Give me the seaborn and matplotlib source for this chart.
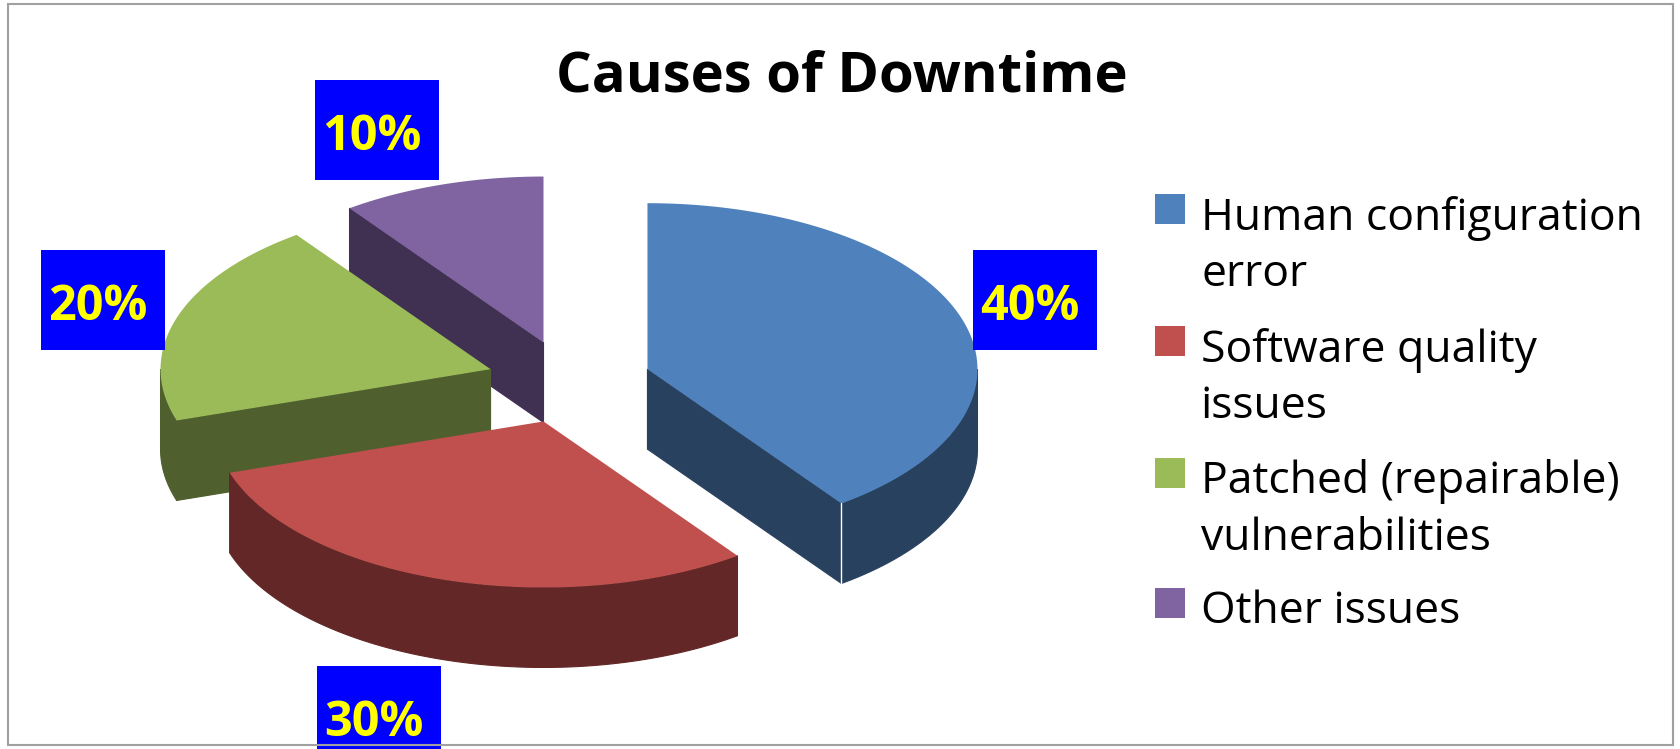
import numpy as np
import matplotlib
matplotlib.use("Agg")
import matplotlib.pyplot as plt
from matplotlib.patches import Rectangle
import seaborn as sns

# Chart content
title = "Causes of Downtime"
categories = [
    "Human configuration\nerror",
    "Software quality\nissues",
    "Patched (repairable)\nvulnerabilities",
    "Other issues",
]
shares = [40, 30, 20, 10]

top_colors = sns.color_palette(["#4F81BD", "#C0504D", "#9BBB59", "#8064A2"])
side_colors = sns.color_palette(["#28415F", "#622726", "#4F5F2D", "#403152"])

sns.set_theme(style="white")
plt.rcParams["font.family"] = ["Open Sans", "DejaVu Sans"]

# Projected pie geometry (canvas pixels, y pointing down)
CENTER = (569.0, 382.0)
RX, RY = 330.0, 166.0
DEPTH = 80.0
EXPLODE = 0.25


def rim(angle_deg):
    """Rim offset from a slice apex; angles run clockwise from twelve o'clock."""
    a = np.radians(angle_deg)
    return RX * np.sin(a), -RY * np.cos(a)


def arc_points(start, stop, apex):
    angles = np.linspace(start, stop, 90)
    dx, dy = rim(angles)
    return apex[0] + dx, apex[1] + dy


fig = plt.figure(figsize=(16.8, 7.49), dpi=100, facecolor="white")
ax = fig.add_axes([0, 0, 1, 1])
ax.set_xlim(0, 1680)
ax.set_ylim(749, 0)
ax.axis("off")

# Slice angle ranges follow from the shares
edges = np.concatenate([[0.0], np.cumsum(shares)]) * 3.6
slices = []
for i in range(len(shares)):
    start, stop = edges[i], edges[i + 1]
    mx, my = rim((start + stop) / 2)
    apex = (CENTER[0] + EXPLODE * mx, CENTER[1] + EXPLODE * my)
    slices.append((i, start, stop, apex))

# Painted back to front: other, patched, human, software
for i in [3, 2, 0, 1]:
    _, start, stop, apex = slices[i]
    top, side = top_colors[i], side_colors[i]
    wall_z = 2 + 0.1 * (3 - i)

    # Radial wall on whichever straight edge faces the viewer
    for edge in (start, stop):
        dx, dy = rim(edge)
        if (i == 0 and edge == stop) or (i == 2 and edge == start) or (i == 3 and edge == start):
            ax.fill(
                [apex[0], apex[0] + dx, apex[0] + dx, apex[0]],
                [apex[1], apex[1] + dy, apex[1] + dy + DEPTH, apex[1] + DEPTH],
                facecolor=side, edgecolor=side, lw=0.8, zorder=wall_z,
            )

    # Outer wall along the front half of the rim
    lo, hi = max(start, 90.0), min(stop, 270.0)
    if lo < hi:
        x, y = arc_points(lo, hi, apex)
        ax.fill(
            np.concatenate([x, x[::-1]]),
            np.concatenate([y, y[::-1] + DEPTH]),
            facecolor=side, edgecolor=side, lw=0.8, zorder=wall_z,
        )

    # Slice surface
    x, y = arc_points(start, stop, apex)
    ax.fill(
        np.concatenate([[apex[0]], x]),
        np.concatenate([[apex[1]], y]),
        color=top, lw=0, zorder=wall_z + 0.01,
    )

# Thin highlight on the front corner of the largest slice
_, _, stop0, apex0 = slices[0]
cx, cy = rim(stop0)
ax.plot([apex0[0] + cx] * 2, [apex0[1] + cy, apex0[1] + cy + DEPTH],
        color="white", lw=1.0, zorder=3)

# Percentage labels on blue boxes
label_boxes = [
    (973, 250, 124, 100, 980, 320),
    (317, 666, 124, 83, 324, 736),
    (41, 250, 124, 100, 48, 320),
    (315, 80, 124, 100, 322, 150),
]
for share, (bx, by, bw, bh, tx, ty) in zip(shares, label_boxes):
    ax.add_patch(Rectangle((bx, by), bw, bh, facecolor="#0000FF", edgecolor="none", zorder=4))
    ax.text(tx, ty, f"{share}%", color="#FFFF00", fontsize=35, fontweight="bold",
            ha="left", va="baseline", zorder=5)

# Title
ax.text(842, 92, title, color="black", fontsize=40.5, fontweight="bold",
        ha="center", va="baseline", zorder=5)

# Legend column
swatch_tops = [194, 326, 458, 588]
first_baselines = [230, 362, 493, 623]
for color, label, sy, base in zip(top_colors, categories, swatch_tops, first_baselines):
    ax.add_patch(Rectangle((1155, sy), 30, 30, facecolor=color, edgecolor="none", zorder=4))
    for n, line in enumerate(label.split("\n")):
        ax.text(1201, base + 56.5 * n, line, color="black", fontsize=32,
                ha="left", va="baseline", zorder=5)

# Chart frame
ax.add_patch(Rectangle((8, 4), 1665, 741, facecolor="none", edgecolor="#A0A0A0", lw=1.5, zorder=6))

fig.savefig("out.png", dpi=100, facecolor="white")
